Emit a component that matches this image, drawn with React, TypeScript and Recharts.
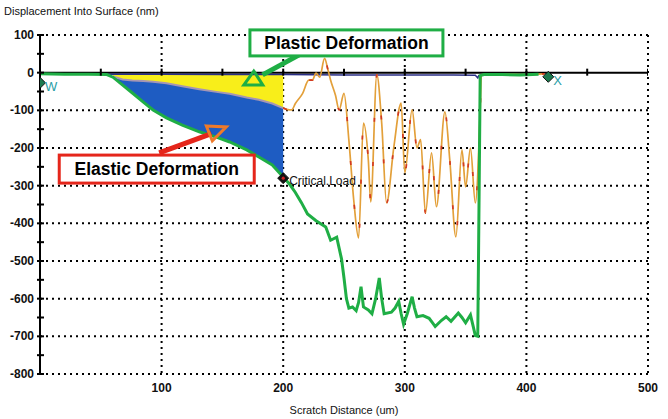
import React from 'react';
import {
  ComposedChart,
  CartesianGrid,
  Line,
  Area,
  Scatter,
  XAxis,
  YAxis,
  ReferenceLine,
  ReferenceDot,
} from 'recharts';

// ---------- axes ----------
const xTicks = [100, 200, 300, 400, 500];
const yTicks = [-800, -750, -700, -650, -600, -550, -500, -450, -400, -350, -300, -250, -200, -150, -100, -50, 0, 50, 100];
const gridY = [100, -100, -200, -300, -400, -500, -600, -700, -800];
const gridX = [100, 200, 300, 400, 500];
const zeroLineTicks = [50, 100, 150, 200, 250, 300, 350, 400, 450, 500];

// ---------- scan depth (green) : approach ----------
const approachX = [0, 20, 40, 55];
const approachDepth = [-3, -4, -4, -5];

// ---------- loading section (0..critical load) ----------
const loadX = [60, 68, 76, 85, 93, 104, 117, 131, 145, 156, 170, 180, 191, 200];
const loadScan = [-12, -33, -54, -78, -99, -120, -139, -157, -171, -184, -205, -224, -245, -277];
const loadResidual = [-10, -18, -21, -22, -24, -28, -36, -44, -51, -56, -66, -72, -82, -94];
const loadSurface = [-4, -4, -4, -5, -5, -5, -5, -5, -5, -5, -6, -6, -6, -6];

// ---------- scan depth (green) : after critical load ----------
const postScanX = [205, 210, 215, 220, 227, 235, 239, 244, 248, 250, 252, 254, 257, 260, 262, 264, 266, 270, 273, 276, 279, 281, 283, 289, 292, 295, 297, 299, 302, 306, 308, 310, 315, 320, 323, 325, 330, 334, 338, 344, 347, 350, 354, 356, 358, 360, 361, 362, 365, 380, 395, 410];
const postScanDepth = [-295, -318, -345, -375, -393, -410, -445, -437, -495, -545, -600, -625, -622, -632, -610, -568, -622, -630, -640, -600, -545, -600, -640, -636, -625, -607, -640, -668, -640, -595, -625, -648, -645, -652, -665, -674, -658, -648, -660, -638, -650, -664, -643, -670, -698, -700, -360, -8, -5, -5, -6, -4];

// ---------- residual depth after critical load ----------
const residualX = [200, 205, 207, 210, 216, 221, 224, 227, 230, 234, 237, 239, 243, 246, 250, 254, 258, 262, 266, 270, 272, 277, 281, 285, 291, 297, 300, 306, 310, 313, 317, 322, 326, 333, 337, 342, 347, 350, 354, 358, 362, 363, 380, 400, 415];
const residualDepth = [-94, -99, -99, -82, -55, -20, -20, -1, -12, 38, 5, -20, -60, -99, -55, -179, -338, -439, -134, -232, -343, -6, -134, -346, -197, -81, -266, -99, -200, -178, -373, -213, -356, -104, -232, -436, -205, -303, -200, -346, -99, -6, -4, -5, -3];

// ---------- pre-scan profile (navy) ----------
const profileX = [0, 50, 100, 150, 200, 250, 300, 340, 358, 360, 361];
const profileDepth = [-3, -4, -4, -5, -5, -6, -6, -6, -7, -14, -6];

// ---------- markers ----------
const markerX = [0, 418, 200];
const markerY = [-27, -11, -280];
const markerName = ['W', 'X', 'Critical.Load'];

// ---------- annotations ----------
const plasticLabel = 'Plastic Deformation';
const elasticLabel = 'Elastic Deformation';

const loadTable = loadX.map((x, i) => ({
  x,
  scan: loadScan[i],
  residual: loadResidual[i],
  surface: loadSurface[i],
}));
const scanTable = [
  ...approachX.map((x, i) => ({ x, y: approachDepth[i] })),
  ...loadX.map((x, i) => ({ x, y: loadScan[i] })),
  ...postScanX.map((x, i) => ({ x, y: postScanDepth[i] })),
];
const residualTable = residualX.map((x, i) => ({ x, y: residualDepth[i] }));
const profileTable = profileX.map((x, i) => ({ x, y: profileDepth[i] }));
const markerTable = markerX.map((x, i) => ({ x, y: markerY[i], name: markerName[i] }));
const zeroTickTable = zeroLineTicks.map((x) => ({ x, y: 0 }));

const FONT = '"Liberation Sans", Arial, sans-serif';
const GREEN = '#1fae45';
const RED = '#e5261b';

const YTick = (props: any) => {
  const { x, y, payload } = props;
  const v = payload.value;
  const major = v % 100 === 0;
  return (
    <g>
      <line x1={x + 3} x2={x + 10} y1={y} y2={y} stroke="#000" strokeWidth={2} />
      {major && (
        <text x={x} y={y} dy={4} textAnchor="end" fontSize={12} fontWeight="bold" fill="#111" fontFamily={FONT}>
          {v}
        </text>
      )}
    </g>
  );
};

const ZeroTick = (props: any) => {
  const { cx, cy } = props;
  return <line x1={cx} x2={cx} y1={cy - 4} y2={cy + 3} stroke="#000" strokeWidth={2} />;
};

const Marker = (props: any) => {
  const { cx, cy, payload } = props;
  const s = 5.5;
  const d = `M${cx},${cy - s} L${cx + s},${cy} L${cx},${cy + s} L${cx - s},${cy} Z`;
  if (payload.name === 'Critical.Load') {
    return (
      <g>
        <path d={d} fill="#111" stroke="#111" />
        <circle cx={cx} cy={cy} r={1.6} fill="#d02020" />
        <text x={cx + 6} y={cy + 7} fontSize={12} fill="#111" fontFamily={FONT}>
          {payload.name}
        </text>
      </g>
    );
  }
  return (
    <g>
      <path d={d} fill="#1c7a4e" stroke="#111" strokeWidth={1} />
      <text x={cx + 5} y={cy + 8} fontSize={13} fill="#2b9ea6" fontFamily={FONT}>
        {payload.name}
      </text>
    </g>
  );
};

const Box = (props: any) => {
  const { cx, cy, label, color, w, h } = props;
  return (
    <g>
      <rect x={cx - w / 2} y={cy - h / 2} width={w} height={h} fill="#fff" stroke={color} strokeWidth={3} />
      <text x={cx} y={cy + 6} textAnchor="middle" fontSize={17.5} fontWeight="bold" fill="#000" fontFamily={FONT}>
        {label}
      </text>
    </g>
  );
};

const UpTriangle = (props: any) => {
  const { cx, cy } = props;
  return (
    <polygon
      points={`${cx + 1},${cy - 8} ${cx - 9},${cy + 6} ${cx + 10},${cy + 6}`}
      fill="none"
      stroke={GREEN}
      strokeWidth={3}
    />
  );
};

const DownTriangle = (props: any) => {
  const { cx, cy } = props;
  return (
    <polygon
      points={`${cx - 10},${cy - 7} ${cx + 10},${cy - 6} ${cx - 4},${cy + 8}`}
      fill="none"
      stroke="#ef7a2a"
      strokeWidth={3}
    />
  );
};

export default function App() {
  return (
    <div style={{ position: 'absolute', left: 0, top: 0, width: 668, height: 419, background: '#fff' }}>
      <div
        style={{
          position: 'absolute',
          left: 4,
          top: 5,
          fontFamily: FONT,
          fontSize: 11,
          color: '#111',
          whiteSpace: 'nowrap',
        }}
      >
        Displacement Into Surface (nm)
      </div>
      <ComposedChart width={668} height={419} margin={{ top: 35, right: 20, left: 0, bottom: 4 }}>
        <CartesianGrid
          horizontalValues={gridY}
          verticalValues={gridX}
          stroke="#000"
          strokeWidth={2}
          strokeDasharray="2 4"
        />
        <XAxis
          type="number"
          dataKey="x"
          domain={[0, 500]}
          ticks={xTicks}
          allowDataOverflow
          axisLine={false}
          tickLine={false}
          tickSize={0}
          tickMargin={9}
          height={41}
          tick={{ fontSize: 12, fontWeight: 'bold', fill: '#111', fontFamily: FONT }}
          label={{
            value: 'Scratch Distance  (um)',
            position: 'insideBottom',
            offset: 1,
            style: { fontSize: 11, fill: '#111', fontFamily: FONT },
          }}
        />
        <YAxis
          type="number"
          dataKey="y"
          domain={[-800, 100]}
          ticks={yTicks}
          allowDataOverflow
          width={40}
          interval={0}
          axisLine={{ stroke: '#000', strokeWidth: 2 }}
          tickLine={false}
          tickSize={6}
          tickMargin={0}
          tick={<YTick />}
        />
        <Area
          data={loadTable}
          dataKey={(d: any) => [d.scan, d.residual]}
          type="linear"
          fill="#1e5cc2"
          fillOpacity={1}
          stroke="none"
          isAnimationActive={false}
        />
        <Area
          data={loadTable}
          dataKey={(d: any) => [d.residual, d.surface]}
          type="linear"
          fill="#f8ee1a"
          fillOpacity={1}
          stroke="none"
          isAnimationActive={false}
        />
        <Line
          data={loadTable}
          dataKey="residual"
          type="linear"
          stroke="#a596b4"
          strokeWidth={2}
          dot={false}
          isAnimationActive={false}
        />
        <ReferenceLine y={0} stroke="#000" strokeWidth={2} />
        <Line
          data={profileTable}
          dataKey="y"
          type="linear"
          stroke="#2b2f86"
          strokeWidth={1.5}
          dot={false}
          isAnimationActive={false}
        />
        <Line
          data={residualTable}
          dataKey="y"
          type="monotone"
          stroke="#e3a03a"
          strokeWidth={1.7}
          dot={false}
          isAnimationActive={false}
        />
        <Line
          data={residualTable}
          dataKey="y"
          type="monotone"
          stroke="#d33a22"
          strokeWidth={1.7}
          strokeDasharray="4 40"
          dot={false}
          isAnimationActive={false}
        />
        <Line
          data={scanTable}
          dataKey="y"
          type="linear"
          stroke={GREEN}
          strokeWidth={3}
          dot={false}
          isAnimationActive={false}
        />
        <Scatter data={zeroTickTable} dataKey="y" shape={<ZeroTick />} isAnimationActive={false} />
        <Scatter data={markerTable} dataKey="y" shape={<Marker />} isAnimationActive={false} />
        <ReferenceLine
          segment={[{ x: 218, y: 56 }, { x: 183, y: -6 }]}
          stroke={GREEN}
          strokeWidth={5}
          ifOverflow="visible"
        />
        <ReferenceDot x={175} y={-17} r={0} ifOverflow="visible" shape={<UpTriangle />} />
        <ReferenceLine
          segment={[{ x: 98, y: -213 }, { x: 141, y: -162 }]}
          stroke={RED}
          strokeWidth={5}
          ifOverflow="visible"
        />
        <ReferenceDot x={145} y={-160} r={0} ifOverflow="visible" shape={<DownTriangle />} />
        <ReferenceDot
          x={252}
          y={79}
          r={0}
          ifOverflow="visible"
          shape={(p: any) => <Box cx={p.cx} cy={p.cy} w={193} h={26} color={GREEN} label={plasticLabel} />}
        />
        <ReferenceDot
          x={96}
          y={-256}
          r={0}
          ifOverflow="visible"
          shape={(p: any) => <Box cx={p.cx} cy={p.cy} w={195} h={28} color={RED} label={elasticLabel} />}
        />
      </ComposedChart>
    </div>
  );
}
